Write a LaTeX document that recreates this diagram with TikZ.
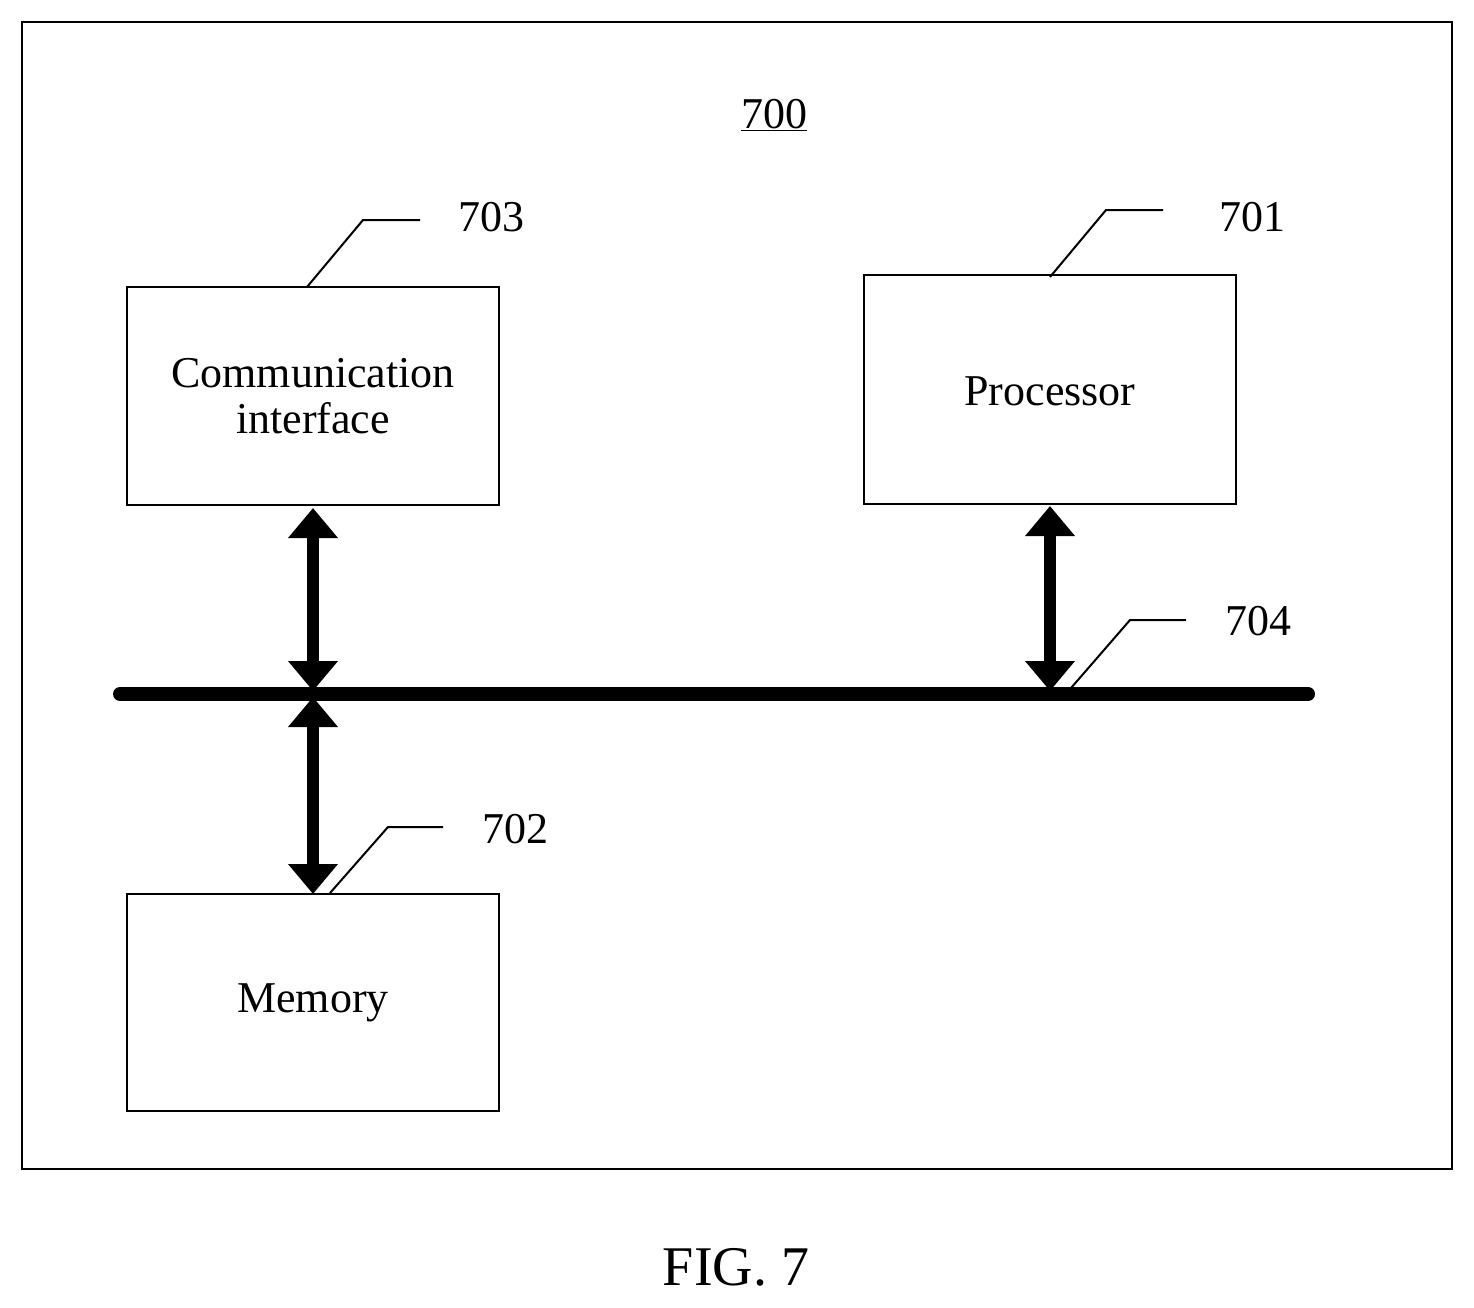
\documentclass[tikz,border=0pt]{standalone}
\usepackage{fontspec}
\setmainfont{Liberation Serif}
\usetikzlibrary{arrows.meta}
\begin{document}
\begin{tikzpicture}[x=1pt,y=-1pt,
  box/.style={draw,line width=2pt,inner sep=0pt},
  lbl/.style={font=\fontsize{44}{50}\selectfont},
  lead/.style={line width=2pt},
  dbl/.style={line width=12pt,{Triangle[length=30pt,width=48pt]}-{Triangle[length=30pt,width=48pt]}}]
\useasboundingbox (0,0) rectangle (1474,1307);
\draw[line width=2pt] (22,22) rectangle (1452,1169);
\node[lbl] (t700) at (774,115) {\underline{700}};
\draw[line width=2pt] (127,287) rectangle (499,505);
\coordinate (cA) at (127,287); \coordinate (cB) at (499,505);
\node[lbl,align=center] (comm) at (313,396) {Communication\\[-4pt]interface};
\draw[line width=2pt] (864,275) rectangle (1236,504);
\node[lbl] (proc) at (1050,391) {Processor};
\draw[line width=2pt] (127,894) rectangle (499,1111);
\node[lbl] (mem) at (313,1003) {Memory};
\coordinate (b1) at (120,694); \coordinate (b2) at (1308,694);
\draw[line width=14pt,line cap=round] (b1) -- (b2);
\coordinate (a1) at (313,508); \coordinate (a2) at (313,691);
\coordinate (a3) at (313,697); \coordinate (a4) at (313,894);
\coordinate (a5) at (1050,506); \coordinate (a6) at (1050,691);
\draw[dbl] (a1) -- (a2);
\draw[dbl] (a3) -- (a4);
\draw[dbl] (a5) -- (a6);
\coordinate (l1) at (307,287); \coordinate (l2) at (363,220); \coordinate (l3) at (420,220);
\draw[lead] (l1) -- (l2) -- (l3);
\node[lbl] (n703) at (491,217) {703};
\coordinate (p1) at (1050,277); \coordinate (p2) at (1106,210); \coordinate (p3) at (1163,210);
\draw[lead] (p1) -- (p2) -- (p3);
\node[lbl] (n701) at (1252,217) {701};
\coordinate (q1) at (1071,688); \coordinate (q2) at (1130,620); \coordinate (q3) at (1186,620);
\draw[lead] (q1) -- (q2) -- (q3);
\node[lbl] (n704) at (1258,621) {704};
\coordinate (r1) at (330,893); \coordinate (r2) at (388,827); \coordinate (r3) at (443,827);
\draw[lead] (r1) -- (r2) -- (r3);
\node[lbl] (n702) at (515,829) {702};
\node[font=\fontsize{56}{60}\selectfont] (fig) at (736,1267) {FIG. 7};
\end{tikzpicture}
\end{document}
